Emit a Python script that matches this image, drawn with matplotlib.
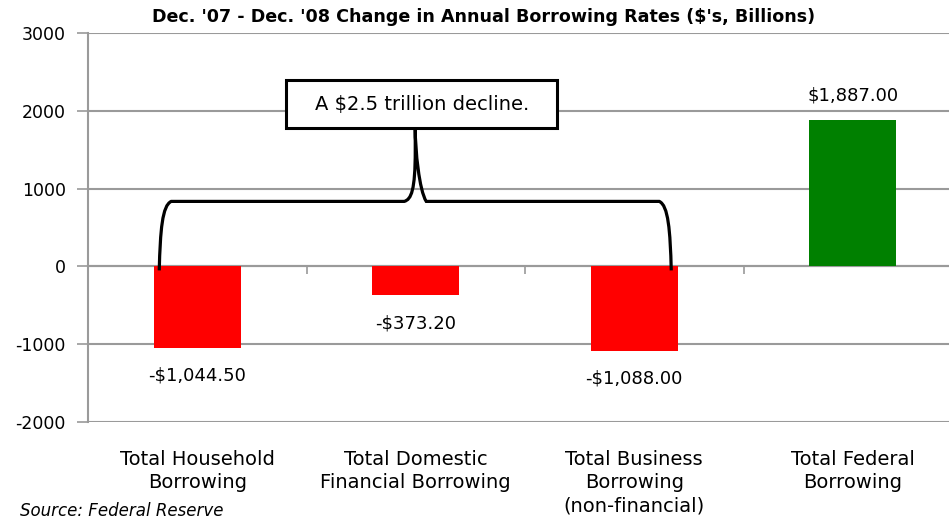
import matplotlib
matplotlib.use("Agg")
import matplotlib.pyplot as plt
from matplotlib.path import Path
from matplotlib.patches import PathPatch, Rectangle

categories = ["Total Household\nBorrowing",
              "Total Domestic\nFinancial Borrowing",
              "Total Business\nBorrowing\n(non-financial)",
              "Total Federal\nBorrowing"]
values = [-1044.50, -373.20, -1088.00, 1887.00]
value_labels = ["-$1,044.50", "-$373.20", "-$1,088.00", "$1,887.00"]
colors = ["#FF0000", "#FF0000", "#FF0000", "#008000"]
yticks = [3000, 2000, 1000, 0, -1000, -2000]

title = "Dec. '07 - Dec. '08 Change in Annual Borrowing Rates ($'s, Billions)"
callout = "A $2.5 trillion decline."
source = "Source: Federal Reserve"

GRID = "#9a9a9a"

fig = plt.figure(figsize=(9.49, 5.19), dpi=100)
ax = fig.add_axes([88 / 949, (519 - 422) / 519, 874 / 949, 389 / 519])

x = list(range(len(values)))
ax.bar(x, values, width=0.4, color=colors, zorder=3)

ax.set_xlim(-0.5, len(values) - 0.5)
ax.set_ylim(-2000, 3000)
ax.set_yticks(yticks)
ax.set_yticklabels([str(t) for t in yticks], fontsize=12.5)
ax.yaxis.grid(True, color=GRID, lw=1.5, zorder=0)
ax.tick_params(axis="y", length=8, width=1.2, color=GRID, pad=8)

for s in ["top", "right"]:
    ax.spines[s].set_visible(False)
ax.spines["left"].set_color(GRID)
ax.spines["left"].set_linewidth(1.5)
ax.spines["bottom"].set_position(("data", 0))
ax.spines["bottom"].set_color(GRID)
ax.spines["bottom"].set_linewidth(1.5)
ax.set_xticks([0.5, 1.5, 2.5])
ax.set_xticklabels([])
ax.tick_params(axis="x", length=6, width=1.2, color=GRID, direction="out")

# category names below the plot area
for i, c in enumerate(categories):
    ax.annotate(c, xy=(i, -2000), xytext=(0, -20), textcoords="offset points",
                ha="center", va="top", fontsize=14,
                linespacing=1.3, annotation_clip=False)

# value labels
for i, (v, lab) in enumerate(zip(values, value_labels)):
    off = 17 if v > 0 else -20
    ax.annotate(lab, xy=(i, v), xytext=(0, off), textcoords="offset points",
                ha="center", va="center", fontsize=13)

fig.text(484 / 949, 1 - 17 / 519, title, ha="center", va="center",
         fontsize=12.6, fontweight="bold")
fig.text(20 / 949, 1 - 511 / 519, source, ha="left", va="center",
         fontsize=12, style="italic")

# brace spanning the three declining categories
def px(xp, yp):
    return ((xp - 196) / 218.5, (266 - yp) / 77.8 * 1000)

verts = [px(158, 270), px(159, 230), px(161, 205), px(170, 201),
         px(403, 201),
         px(410, 199), px(414, 190), px(414, 150), px(414, 128),
         px(414, 150), px(418, 190), px(425, 201),
         px(658, 201),
         px(667, 205), px(669, 230), px(670, 270)]
codes = [Path.MOVETO, Path.CURVE4, Path.CURVE4, Path.CURVE4,
         Path.LINETO,
         Path.CURVE4, Path.CURVE4, Path.CURVE4, Path.LINETO,
         Path.CURVE4, Path.CURVE4, Path.CURVE4,
         Path.LINETO,
         Path.CURVE4, Path.CURVE4, Path.CURVE4]
ax.add_patch(PathPatch(Path(verts, codes), fill=False, lw=2.3,
                       edgecolor="black", zorder=5, clip_on=False))

# callout box
bx0, by0 = px(285, 128)
bx1, by1 = px(556, 80)
ax.add_patch(Rectangle((bx0, by0), bx1 - bx0, by1 - by0, facecolor="white",
                       edgecolor="black", lw=2.2, zorder=6))
ax.text((bx0 + bx1) / 2, (by0 + by1) / 2, callout, ha="center", va="center",
        fontsize=14, zorder=7)

fig.savefig("out.png", dpi=100)
